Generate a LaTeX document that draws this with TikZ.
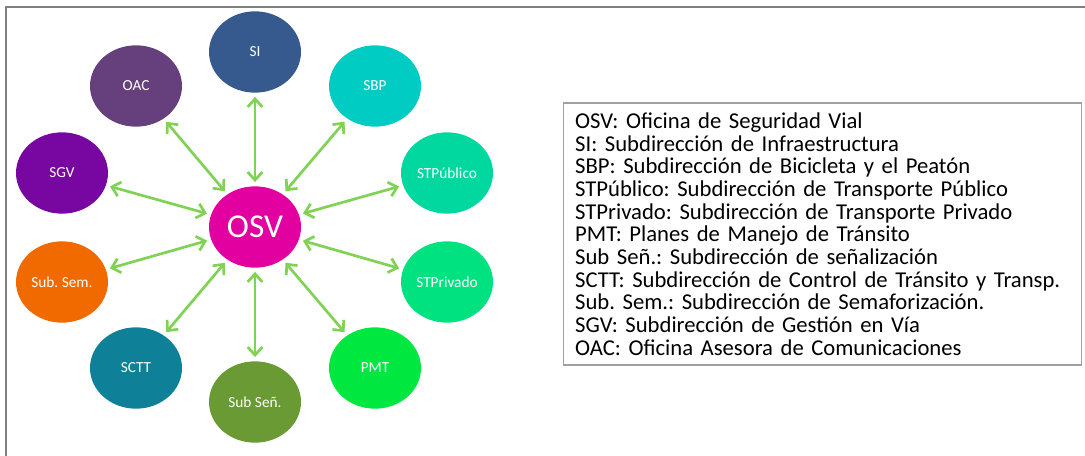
\documentclass[tikz,border=0pt]{standalone}
\usepackage{fontspec}
\setmainfont{Carlito}
\usetikzlibrary{arrows.meta,shapes.geometric}

\definecolor{osvpink}{RGB}{226,0,160}
\definecolor{siblue}{RGB}{54,90,142}
\definecolor{oacpurple}{RGB}{102,64,124}
\definecolor{sbpcyan}{RGB}{0,204,196}
\definecolor{sgvviolet}{RGB}{120,6,160}
\definecolor{stpubgreen}{RGB}{0,216,160}
\definecolor{semorange}{RGB}{240,106,0}
\definecolor{stprivgreen}{RGB}{0,226,128}
\definecolor{scttteal}{RGB}{14,128,152}
\definecolor{pmtgreen}{RGB}{0,232,64}
\definecolor{senolive}{RGB}{106,154,52}
\definecolor{linkgreen}{RGB}{128,210,84}
\definecolor{framegray}{RGB}{128,128,128}
\definecolor{boxgray}{RGB}{160,160,160}

\frenchspacing
\begin{document}
\begin{tikzpicture}[x=0.75pt,y=-0.75pt,
  unit/.style={ellipse,minimum width=69pt,minimum height=61pt,inner sep=0pt,text=white,font=\fontsize{11.5}{13}\selectfont},
  link/.style={draw=linkgreen,line width=2pt,{Straight Barb[length=6pt,width=11pt]}-{Straight Barb[length=6pt,width=11pt]},shorten <=3pt,shorten >=3pt}]
\useasboundingbox (0,0) rectangle (1085,456);
\draw[framegray,line width=1.5pt] (6,456) -- (6,7) -- (1085,7);

% hub and offices
\node[unit,fill=osvpink,font=\fontsize{25}{28}\selectfont] (osv) at (255,227) {OSV};
\node[unit,fill=siblue] (si) at (255,52) {SI};
\node[unit,fill=oacpurple] (oac) at (136,86) {OAC};
\node[unit,fill=sbpcyan] (sbp) at (375,86) {SBP};
\node[unit,fill=sgvviolet] (sgv) at (62,173) {SGV};
\node[unit,fill=stpubgreen] (stpub) at (447,173) {STPúblico};
\node[unit,fill=semorange] (subsem) at (62,282) {Sub. Sem.};
\node[unit,fill=stprivgreen] (stpriv) at (447,282) {STPrivado};
\node[unit,fill=scttteal] (sctt) at (136,368) {SCTT};
\node[unit,fill=pmtgreen] (pmt) at (375,368) {PMT};
\node[unit,fill=senolive] (subsen) at (255,402) {Sub Señ.};

\foreach \n in {si,oac,sbp,sgv,stpub,subsem,stpriv,sctt,pmt,subsen}
  \draw[link] (osv) -- (\n);

% legend
\node[draw=boxgray,line width=0.8pt,minimum width=389pt,minimum height=196.5pt,text width=371pt,align=left,inner sep=0pt,font=\fontsize{17}{17}\selectfont] (legend) at (822.5,234)
{OSV: Oficina de Seguridad Vial\\
SI: Subdirección de Infraestructura\\
SBP: Subdirección de Bicicleta y el Peatón\\
STPúblico: Subdirección de Transporte Público\\
STPrivado: Subdirección de Transporte Privado\\
PMT: Planes de Manejo de Tránsito\\
Sub Señ.: Subdirección de señalización\\
SCTT: Subdirección de Control de Tránsito y Transp.\\
Sub. Sem.: Subdirección de Semaforización.\\
SGV: Subdirección de Gestión en Vía\\
OAC: Oficina Asesora de Comunicaciones};
\end{tikzpicture}
\end{document}
